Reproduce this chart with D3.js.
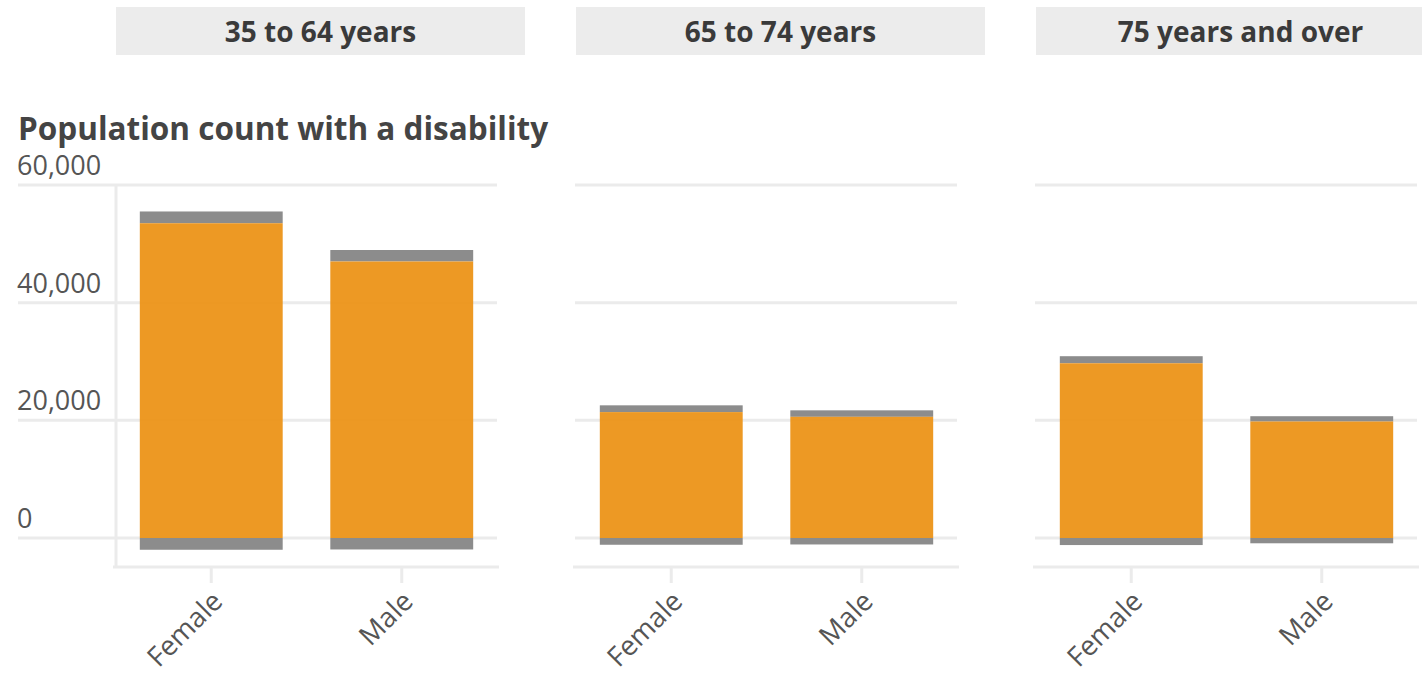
<!DOCTYPE html>
<html>
<head>
<meta charset="utf-8">
<script src="https://cdn.jsdelivr.net/npm/d3@7"></script>
<style>
  body { margin: 0; background: #fff; }
  svg { display: block; font-family: "Open Sans", Lato, "Noto Sans", sans-serif; }
</style>
</head>
<body>
<svg id="ch" width="1422" height="677"></svg>
<script>
// facets, categories and values
var groups   = ["35 to 64 years", "65 to 74 years", "75 years and over"];
var sexes    = ["Female", "Male"];
var estimate = [[53500, 47000], [21400, 20600], [29700, 19800]];
var moe      = [[2000, 1950], [1150, 1100], [1200, 900]];
var yTicks   = [0, 20000, 40000, 60000];

var svg = d3.select("#ch");
var W = 1422;

var panelLeft = 116, panelW = 381, panelStep = 460;
var y = d3.scaleLinear()
    .domain([-4930, 60000])
    .range([567, 185]);

var fmt = d3.format(",");

// title
svg.append("text")
    .attr("x", 18).attr("y", 140)
    .style("font-size", "31.5px").style("font-weight", "700")
    .style("fill", "#444")
    .text("Population count with a disability");

groups.forEach(function (g, i) {
    var x0 = panelLeft + i * panelStep;
    var x = d3.scaleBand()
        .domain(sexes)
        .range([x0, x0 + panelW])
        .paddingInner(0.25)
        .paddingOuter(0.125);

    var p = svg.append("g").attr("class", "panel");

    // strip
    p.append("rect")
        .attr("x", x0).attr("y", 7)
        .attr("width", Math.min(409, W - x0)).attr("height", 48)
        .style("fill", "#ececec");
    p.append("text")
        .attr("x", x0 + 204.5).attr("y", 42)
        .attr("text-anchor", "middle")
        .style("font-size", "28px").style("font-weight", "700")
        .style("fill", "#3a3a3a")
        .text(g);

    // gridlines
    p.selectAll(".grid")
        .data(yTicks)
        .enter().append("line")
        .attr("class", "grid")
        .attr("x1", i === 0 ? 18 : x0 - 1)
        .attr("x2", x0 + panelW)
        .attr("y1", function (d) { return y(d); })
        .attr("y2", function (d) { return y(d); })
        .style("stroke", "#ebebeb").style("stroke-width", 3);

    // y labels only in first panel
    if (i === 0) {
        p.selectAll(".ylab")
            .data(yTicks)
            .enter().append("text")
            .attr("class", "ylab")
            .attr("x", 17)
            .attr("y", function (d) { return y(d) - 10; })
            .style("font-size", "27px").style("fill", "#555")
            .text(function (d) { return fmt(d); });

        p.append("line")
            .attr("x1", x0).attr("x2", x0)
            .attr("y1", y(60000)).attr("y2", 567)
            .style("stroke", "#ebebeb").style("stroke-width", 3);
    }

    // x axis line + ticks
    p.append("line")
        .attr("x1", x0 - 3).attr("x2", x0 + panelW + 2)
        .attr("y1", 567).attr("y2", 567)
        .style("stroke", "#ebebeb").style("stroke-width", 3);

    p.selectAll(".tick")
        .data(sexes)
        .enter().append("line")
        .attr("class", "tick")
        .attr("x1", function (d) { return x(d) + x.bandwidth() / 2; })
        .attr("x2", function (d) { return x(d) + x.bandwidth() / 2; })
        .attr("y1", 567).attr("y2", 583)
        .style("stroke", "#ebebeb").style("stroke-width", 3);

    p.selectAll(".xlab")
        .data(sexes)
        .enter().append("text")
        .attr("class", "xlab")
        .attr("text-anchor", "end")
        .attr("transform", function (d) {
            return "translate(" + (x(d) + x.bandwidth() / 2 + 13) + ",603) rotate(-45)";
        })
        .style("font-size", "27.5px").style("fill", "#555")
        .text(function (d) { return d; });

    var rows = sexes.map(function (s, j) {
        return { sex: s, v: estimate[i][j], m: moe[i][j] };
    });

    // margin of error bands (above the estimate and below zero)
    p.selectAll(".moeTop")
        .data(rows)
        .enter().append("rect")
        .attr("class", "moeTop")
        .attr("x", function (d) { return x(d.sex); })
        .attr("width", x.bandwidth())
        .attr("y", function (d) { return y(d.v + d.m); })
        .attr("height", function (d) { return y(d.v) - y(d.v + d.m); })
        .style("fill", "#8c8c8c");

    p.selectAll(".moeBot")
        .data(rows)
        .enter().append("rect")
        .attr("class", "moeBot")
        .attr("x", function (d) { return x(d.sex); })
        .attr("width", x.bandwidth())
        .attr("y", y(0))
        .attr("height", function (d) { return y(-d.m) - y(0); })
        .style("fill", "#8c8c8c");

    p.selectAll(".bar")
        .data(rows)
        .enter().append("rect")
        .attr("class", "bar")
        .attr("x", function (d) { return x(d.sex); })
        .attr("width", x.bandwidth())
        .attr("y", function (d) { return y(d.v); })
        .attr("height", function (d) { return y(0) - y(d.v); })
        .style("fill", "#ec9418").style("fill-opacity", 0.95);
});
</script>
</body>
</html>
